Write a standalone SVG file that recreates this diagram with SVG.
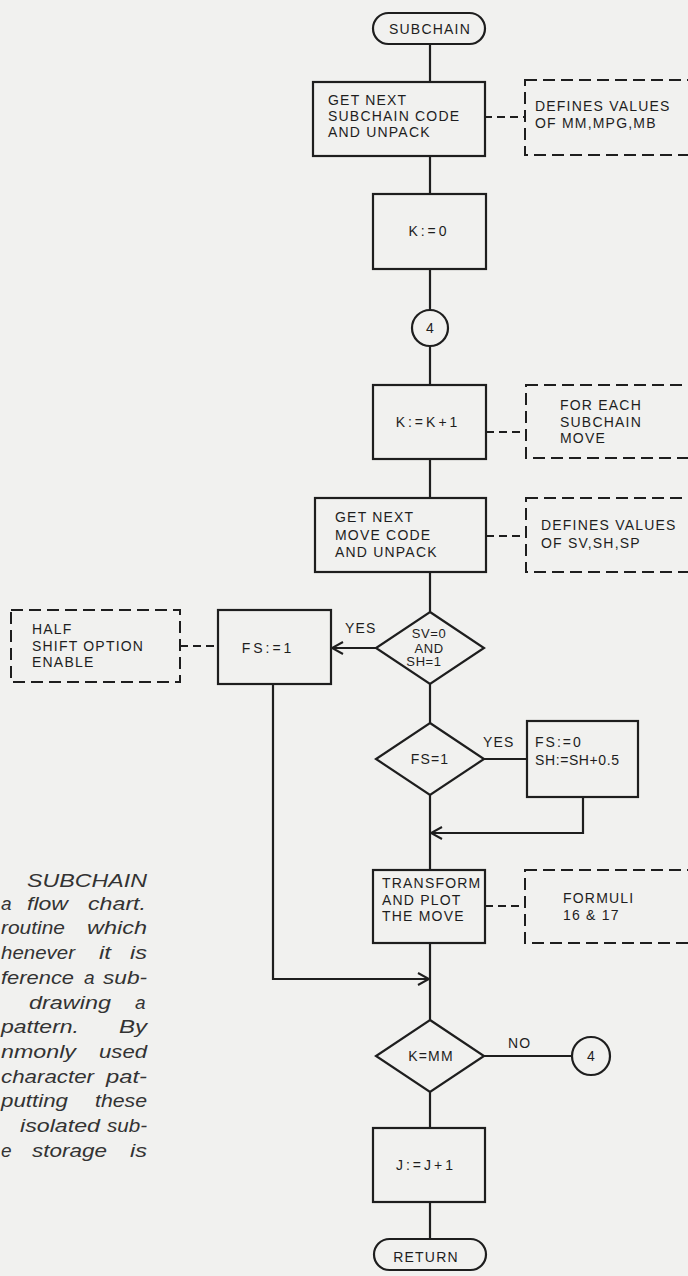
<svg xmlns="http://www.w3.org/2000/svg" width="688" height="1276" viewBox="0 0 688 1276">
<defs>
<style>
.bg{fill:#f1f1ef}
.box{fill:none;stroke:#1e1e1e;stroke-width:2.2}
.dbox{fill:none;stroke:#1e1e1e;stroke-width:2;stroke-dasharray:12 6}
.ln{fill:none;stroke:#1e1e1e;stroke-width:2.2}
.dln{fill:none;stroke:#1e1e1e;stroke-width:2;stroke-dasharray:8 5}
.t{font-family:"Liberation Sans",Arial,sans-serif;font-size:14px;fill:#1e1e1e;letter-spacing:1.2px}
.s{font-size:13px;letter-spacing:0.6px}
.eq{letter-spacing:3px}
.c{text-anchor:middle}
.cap{font-family:"Liberation Sans",Arial,sans-serif;font-style:italic;font-size:19px;fill:#333}
</style>
<marker id="arr" viewBox="0 0 14 14" refX="12" refY="7" markerWidth="14" markerHeight="14" markerUnits="userSpaceOnUse" orient="auto">
<path d="M1,1 L12,7 L1,13" fill="none" stroke="#1e1e1e" stroke-width="2"/>
</marker>
</defs>
<rect class="bg" x="0" y="0" width="688" height="1276"/>

<g id="connectors">
<path class="ln" d="M430,44 V82"/>
<path class="ln" d="M430,156 V194"/>
<path class="ln" d="M430,269 V310"/>
<path class="ln" d="M430,346 V385"/>
<path class="ln" d="M430,459 V498"/>
<path class="ln" d="M430,572 V612"/>
<path class="ln" d="M376,648 H332" marker-end="url(#arr)"/>
<path class="ln" d="M430,684 V723"/>
<path class="ln" d="M484,759 H527"/>
<path class="ln" d="M583,797 V833 H431" marker-end="url(#arr)"/>
<path class="ln" d="M430,795 V870"/>
<path class="ln" d="M273,684 V979 H429" marker-end="url(#arr)"/>
<path class="ln" d="M430,943 V1020"/>
<path class="ln" d="M484,1056 H572"/>
<path class="ln" d="M430,1092 V1128"/>
<path class="ln" d="M430,1202 V1239"/>
<path class="dln" d="M484,117 H525"/>
<path class="dln" d="M486,432 H526"/>
<path class="dln" d="M486,536 H526"/>
<path class="dln" d="M180,646 H218"/>
<path class="dln" d="M485,906 H525"/>
<text class="t" x="345" y="633">YES</text>
<text class="t" x="483" y="747">YES</text>
<text class="t" x="508" y="1048">NO</text>
</g>

<g id="start">
<rect class="box" x="373" y="13" width="112" height="31" rx="15.5"/>
<text class="t c" x="430" y="34">SUBCHAIN</text>
</g>

<g id="get-subchain">
<rect class="box" x="313" y="82" width="172" height="74"/>
<text class="t" x="328" y="105">GET NEXT</text>
<text class="t" x="328" y="121">SUBCHAIN CODE</text>
<text class="t" x="328" y="137">AND UNPACK</text>
</g>

<g id="note-mm">
<rect class="dbox" x="525" y="80" width="180" height="75"/>
<text class="t" x="535" y="111">DEFINES VALUES</text>
<text class="t" x="535" y="128">OF MM,MPG,MB</text>
</g>

<g id="k-zero">
<rect class="box" x="373" y="194" width="113" height="75"/>
<text class="t c eq" x="429" y="236">K:=0</text>
</g>

<g id="conn-4-top">
<circle class="box" cx="430" cy="328" r="18"/>
<text class="t c" x="430" y="333" style="letter-spacing:0">4</text>
</g>

<g id="k-inc">
<rect class="box" x="373" y="385" width="113" height="74"/>
<text class="t c eq" x="428" y="427">K:=K+1</text>
</g>

<g id="note-each">
<rect class="dbox" x="526" y="385" width="180" height="73"/>
<text class="t" x="560" y="410">FOR EACH</text>
<text class="t" x="560" y="427">SUBCHAIN</text>
<text class="t" x="560" y="443">MOVE</text>
</g>

<g id="get-move">
<rect class="box" x="315" y="498" width="171" height="74"/>
<text class="t" x="335" y="522">GET NEXT</text>
<text class="t" x="335" y="540">MOVE CODE</text>
<text class="t" x="335" y="557">AND UNPACK</text>
</g>

<g id="note-sv">
<rect class="dbox" x="526" y="498" width="180" height="74"/>
<text class="t" x="541" y="530">DEFINES VALUES</text>
<text class="t" x="541" y="548">OF SV,SH,SP</text>
</g>

<g id="dec-sv">
<polygon class="box" points="430,612 484,648 430,684 376,648"/>
<text class="t s c" x="429" y="638">SV=0</text>
<text class="t s c" x="429" y="653">AND</text>
<text class="t s c" x="424" y="666">SH=1</text>
</g>

<g id="fs-one">
<rect class="box" x="218" y="610" width="113" height="74"/>
<text class="t c eq" x="268" y="653">FS:=1</text>
</g>

<g id="note-half">
<rect class="dbox" x="11" y="610" width="169" height="72"/>
<text class="t" x="32" y="634">HALF</text>
<text class="t" x="32" y="651">SHIFT OPTION</text>
<text class="t" x="32" y="667">ENABLE</text>
</g>

<g id="dec-fs">
<polygon class="box" points="430,723 484,759 430,795 376,759"/>
<text class="t c" x="430" y="764">FS=1</text>
</g>

<g id="fs-zero">
<rect class="box" x="527" y="721" width="111" height="76"/>
<text class="t" x="535" y="747" style="letter-spacing:2px">FS:=0</text>
<text class="t" x="535" y="765" style="letter-spacing:0.6px">SH:=SH+0.5</text>
</g>

<g id="transform">
<rect class="box" x="373" y="870" width="112" height="73"/>
<text class="t" x="382" y="888">TRANSFORM</text>
<text class="t" x="382" y="905">AND PLOT</text>
<text class="t" x="382" y="921">THE MOVE</text>
</g>

<g id="note-formuli">
<rect class="dbox" x="525" y="870" width="180" height="73"/>
<text class="t" x="563" y="903">FORMULI</text>
<text class="t" x="563" y="920">16 &amp; 17</text>
</g>

<g id="dec-k">
<polygon class="box" points="430,1020 484,1056 430,1092 376,1056"/>
<text class="t c" x="431" y="1061">K=MM</text>
</g>

<g id="conn-4-bottom">
<circle class="box" cx="591" cy="1056" r="19"/>
<text class="t c" x="591" y="1061" style="letter-spacing:0">4</text>
</g>

<g id="j-inc">
<rect class="box" x="373" y="1128" width="112" height="74"/>
<text class="t c eq" x="426" y="1170">J:=J+1</text>
</g>

<g id="return">
<rect class="box" x="374" y="1239" width="112" height="31" rx="15.5"/>
<text class="t c" x="426" y="1262">RETURN</text>
</g>

<g id="caption">
<text class="cap" x="27" y="887" textLength="120" lengthAdjust="spacingAndGlyphs">SUBCHAIN</text>
<text class="cap" x="1" y="910">a</text>
<text class="cap" x="27" y="910" textLength="41" lengthAdjust="spacingAndGlyphs">flow</text>
<text class="cap" x="88" y="910" textLength="58" lengthAdjust="spacingAndGlyphs">chart.</text>
<text class="cap" x="1" y="934" textLength="64" lengthAdjust="spacingAndGlyphs">routine</text>
<text class="cap" x="87" y="934" textLength="60" lengthAdjust="spacingAndGlyphs">which</text>
<text class="cap" x="1" y="959" textLength="74" lengthAdjust="spacingAndGlyphs">henever</text>
<text class="cap" x="99" y="959" textLength="12" lengthAdjust="spacingAndGlyphs">it</text>
<text class="cap" x="130" y="959" textLength="17" lengthAdjust="spacingAndGlyphs">is</text>
<text class="cap" x="1" y="984" textLength="73" lengthAdjust="spacingAndGlyphs">ference</text>
<text class="cap" x="84" y="984">a</text>
<text class="cap" x="103" y="984" textLength="44" lengthAdjust="spacingAndGlyphs">sub-</text>
<text class="cap" x="29" y="1009" textLength="82" lengthAdjust="spacingAndGlyphs">drawing</text>
<text class="cap" x="135" y="1009">a</text>
<text class="cap" x="1" y="1033" textLength="78" lengthAdjust="spacingAndGlyphs">pattern.</text>
<text class="cap" x="119" y="1033" textLength="28" lengthAdjust="spacingAndGlyphs">By</text>
<text class="cap" x="1" y="1058" textLength="75" lengthAdjust="spacingAndGlyphs">nmonly</text>
<text class="cap" x="99" y="1058" textLength="48" lengthAdjust="spacingAndGlyphs">used</text>
<text class="cap" x="1" y="1083" textLength="93" lengthAdjust="spacingAndGlyphs">character</text>
<text class="cap" x="106" y="1083" textLength="41" lengthAdjust="spacingAndGlyphs">pat-</text>
<text class="cap" x="1" y="1107" textLength="67" lengthAdjust="spacingAndGlyphs">putting</text>
<text class="cap" x="95" y="1107" textLength="52" lengthAdjust="spacingAndGlyphs">these</text>
<text class="cap" x="20" y="1132" textLength="80" lengthAdjust="spacingAndGlyphs">isolated</text>
<text class="cap" x="107" y="1132" textLength="40" lengthAdjust="spacingAndGlyphs">sub-</text>
<text class="cap" x="1" y="1157">e</text>
<text class="cap" x="32" y="1157" textLength="75" lengthAdjust="spacingAndGlyphs">storage</text>
<text class="cap" x="130" y="1157" textLength="17" lengthAdjust="spacingAndGlyphs">is</text>
</g>
</svg>
